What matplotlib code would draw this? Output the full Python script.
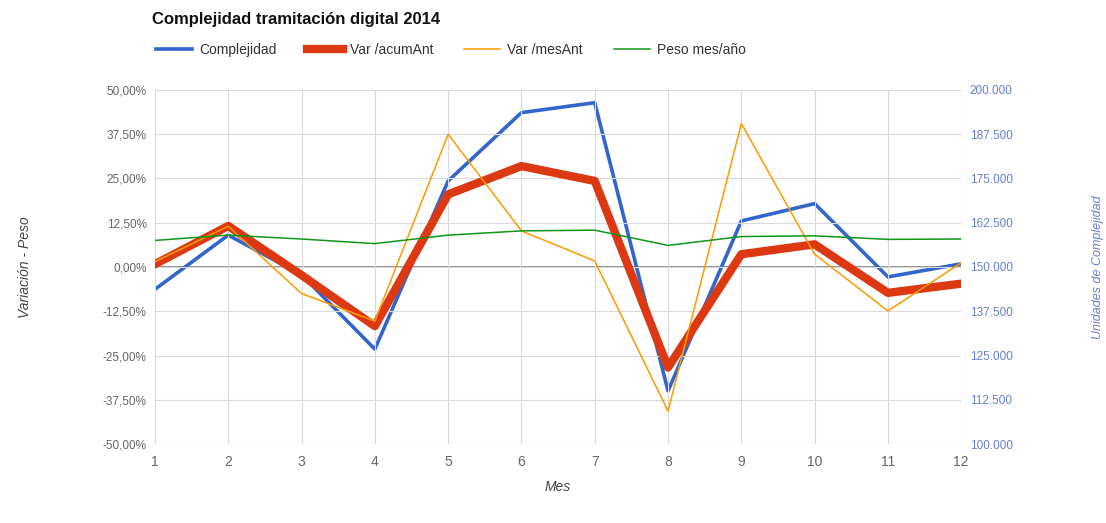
import matplotlib.pyplot as plt
from matplotlib.ticker import FuncFormatter

plt.rcParams['font.family'] = ['Liberation Sans', 'DejaVu Sans']

meses = [1, 2, 3, 4, 5, 6, 7, 8, 9, 10, 11, 12]
complejidad = [143700, 159000, 147800, 126800, 174300, 193600, 196400, 115000, 163000, 167900, 147200, 150900]
var_acum_ant = [0.8, 11.6, -2.3, -16.7, 20.5, 28.5, 24.3, -28.4, 3.6, 6.4, -7.3, -4.7]
var_mes_ant = [1.5, 11.5, -7.5, -15.3, 37.5, 10.2, 1.7, -40.7, 40.5, 3.6, -12.4, 1.2]
peso_mes_anio = [7.5, 9.0, 7.9, 6.6, 9.0, 10.2, 10.4, 6.1, 8.6, 8.8, 7.8, 7.9]

left_ticks = [-50, -37.5, -25, -12.5, 0, 12.5, 25, 37.5, 50]
right_ticks = [100000, 112500, 125000, 137500, 150000, 162500, 175000, 187500, 200000]

BLUE = '#3366cc'
RED = '#dc3912'
ORANGE = '#ff9900'
GREEN = '#109618'

fig = plt.figure(figsize=(11.06, 5.23), dpi=100)
ax = fig.add_axes([0.1401, 0.151, 0.729, 0.677])
ax2 = ax.twinx()

# blue series goes on the secondary axis, but drawn below the others
ax.set_zorder(ax2.get_zorder() + 1)
ax.patch.set_visible(False)

l1, = ax2.plot(meses, complejidad, color=BLUE, lw=2.6, label='Complejidad')
l2, = ax.plot(meses, var_acum_ant, color=RED, lw=6, label='Var /acumAnt')
l3, = ax.plot(meses, var_mes_ant, color=ORANGE, lw=1.1, label='Var /mesAnt')
l4, = ax.plot(meses, peso_mes_anio, color=GREEN, lw=1.1, label='Peso mes/año')

ax.set_xlim(1, 12)
ax.set_ylim(-50, 50)
ax2.set_ylim(100000, 200000)
ax.set_xticks(meses)
ax.set_yticks(left_ticks)
ax2.set_yticks(right_ticks)

ax.yaxis.set_major_formatter(FuncFormatter(lambda v, p: f'{v:.2f}%'.replace('.', ',')))
ax2.yaxis.set_major_formatter(FuncFormatter(lambda v, p: f'{int(v):,}'.replace(',', '.')))

ax2.grid(False)
ax.grid(True, color='#d9d9d9', lw=0.8)
ax.set_axisbelow(True)
ax2.axhline(150000, color='#888888', lw=1.3, zorder=0)

for a in (ax, ax2):
    for s in a.spines.values():
        s.set_visible(False)
ax.tick_params(length=0, labelsize=8.5, colors='#666666', pad=6)
ax2.tick_params(length=0, labelsize=8.5, colors='#6680cc', pad=6)
ax.tick_params(axis='x', pad=8, labelsize=10)

ax.set_xlabel('Mes', style='italic', fontsize=10, color='#444444', labelpad=8)
ax.set_ylabel('Variación - Peso', style='italic', fontsize=10, color='#444444', labelpad=51)
ax2.set_ylabel('Unidades de Complejidad', style='italic', fontsize=9, color='#6680cc', labelpad=57)

fig.text(0.1375, 0.963, 'Complejidad tramitación digital 2014', fontsize=12, fontweight='bold',
         color='#111111', va='center')
fig.legend(handles=[l1, l2, l3, l4], loc='center left', bbox_to_anchor=(0.13, 0.905), ncol=4,
           frameon=False, fontsize=10, handlelength=2.6, columnspacing=2.2, handletextpad=0.5,
           labelcolor='#333333')

fig.savefig('out.png', dpi=100)
